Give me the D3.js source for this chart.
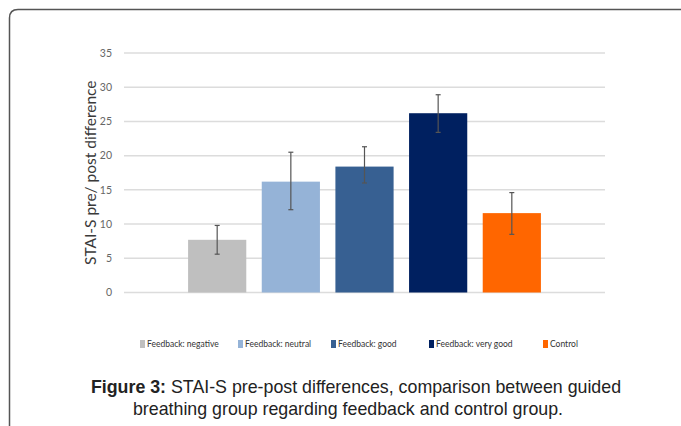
<!DOCTYPE html>
<svg width="681" height="426"></svg>
<script src="https://d3js.org/d3.v7.min.js"></script>
<style>
  body { margin: 0; background: #fff; }
  .grid line { stroke: #dcdcdc; stroke-width: 1.5px; }
  .tick-label { font-family: "Liberation Sans Narrow", "Lato", sans-serif; font-size: 10.5px; fill: #666; }
  .legend text { font-family: "Lato", sans-serif; font-size: 8.5px; fill: #333; }
  .caption { font-family: "Liberation Sans", Arial, sans-serif; font-size: 17.8px; fill: #222; }
</style>
<script>
// STAI-S pre/post differences by group, means with error bars
var categories = ["Feedback: negative", "Feedback: neutral", "Feedback: good", "Feedback: very good", "Control"];
var means = [7.7, 16.2, 18.4, 26.2, 11.6];
var errLow = [5.6, 12.1, 16.0, 23.4, 8.5];
var errHigh = [9.8, 20.5, 21.3, 28.9, 14.6];
var colors = ["#bfbfbf", "#95b3d7", "#376092", "#002060", "#ff6600"];
var yTicks = [0, 5, 10, 15, 20, 25, 30, 35];

var svg = d3.select("svg");

// figure frame (rounded top-left corner, runs off right and bottom)
svg.append("path")
    .attr("d", "M9.5,430 L9.5,18 Q9.5,9.5 18,9.5 L690,9.5")
    .attr("fill", "none")
    .attr("stroke", "#555")
    .attr("stroke-width", 1.5);

var x = d3.scaleBand()
    .domain(categories)
    .range([124, 605])
    .paddingInner(0.21)
    .paddingOuter(0.87);

var y = d3.scaleLinear()
    .domain([0, 35])
    .range([292.5, 53]);

var grid = svg.append("g").attr("class", "grid");
grid.selectAll("line")
  .data(yTicks)
  .enter().append("line")
    .attr("x1", 124)
    .attr("x2", 605)
    .attr("y1", function(d) { return y(d); })
    .attr("y2", function(d) { return y(d); });

svg.append("g").selectAll("text")
  .data(yTicks)
  .enter().append("text")
    .attr("class", "tick-label")
    .attr("x", 112)
    .attr("y", function(d) { return y(d); })
    .attr("dy", "0.35em")
    .attr("text-anchor", "end")
    .text(function(d) { return d; });

var data = categories.map(function(c, i) {
  return {cat: c, mean: means[i], lo: errLow[i], hi: errHigh[i], color: colors[i]};
});

svg.append("g").selectAll("rect")
  .data(data)
  .enter().append("rect")
    .attr("x", function(d) { return x(d.cat); })
    .attr("width", x.bandwidth())
    .attr("y", function(d) { return y(d.mean); })
    .attr("height", function(d) { return y(0) - y(d.mean); })
    .attr("fill", function(d) { return d.color; });

var err = svg.append("g")
    .attr("stroke", "#555")
    .attr("stroke-width", 1.2);

err.selectAll(".stem")
  .data(data)
  .enter().append("line")
    .attr("x1", function(d) { return x(d.cat) + x.bandwidth() / 2; })
    .attr("x2", function(d) { return x(d.cat) + x.bandwidth() / 2; })
    .attr("y1", function(d) { return y(d.lo); })
    .attr("y2", function(d) { return y(d.hi); });

["lo", "hi"].forEach(function(k) {
  err.selectAll(".cap-" + k)
    .data(data)
    .enter().append("line")
      .attr("x1", function(d) { return x(d.cat) + x.bandwidth() / 2 - 2.5; })
      .attr("x2", function(d) { return x(d.cat) + x.bandwidth() / 2 + 2.5; })
      .attr("y1", function(d) { return y(d[k]); })
      .attr("y2", function(d) { return y(d[k]); });
});

// y axis title
svg.append("text")
    .attr("transform", "translate(96," + y(17.5) + ") rotate(-90)")
    .attr("text-anchor", "middle")
    .style("font-family", "Lato, sans-serif")
    .style("font-size", "15.5px")
    .style("fill", "#3a3a3a")
    .text("STAI-S pre/ post difference");

// legend
var legendX = [140, 238, 331, 429, 543];
var legend = svg.append("g").attr("class", "legend")
  .selectAll("g")
  .data(data)
  .enter().append("g")
    .attr("transform", function(d, i) { return "translate(" + legendX[i] + ",344)"; });

legend.append("rect")
    .attr("x", 0)
    .attr("y", -4)
    .attr("width", 5)
    .attr("height", 8)
    .attr("fill", function(d) { return d.color; });

legend.append("text")
    .attr("x", 7)
    .attr("dy", "0.33em")
    .text(function(d) { return d.cat; });

// caption
var cap1 = svg.append("text")
    .attr("class", "caption")
    .attr("x", 356)
    .attr("y", 393)
    .attr("text-anchor", "middle");
cap1.append("tspan").style("font-weight", "bold").text("Figure 3:");
cap1.append("tspan").text(" STAI-S pre-post differences, comparison between guided");

svg.append("text")
    .attr("class", "caption")
    .attr("x", 348)
    .attr("y", 415)
    .attr("text-anchor", "middle")
    .text("breathing group regarding feedback and control group.");
</script>
